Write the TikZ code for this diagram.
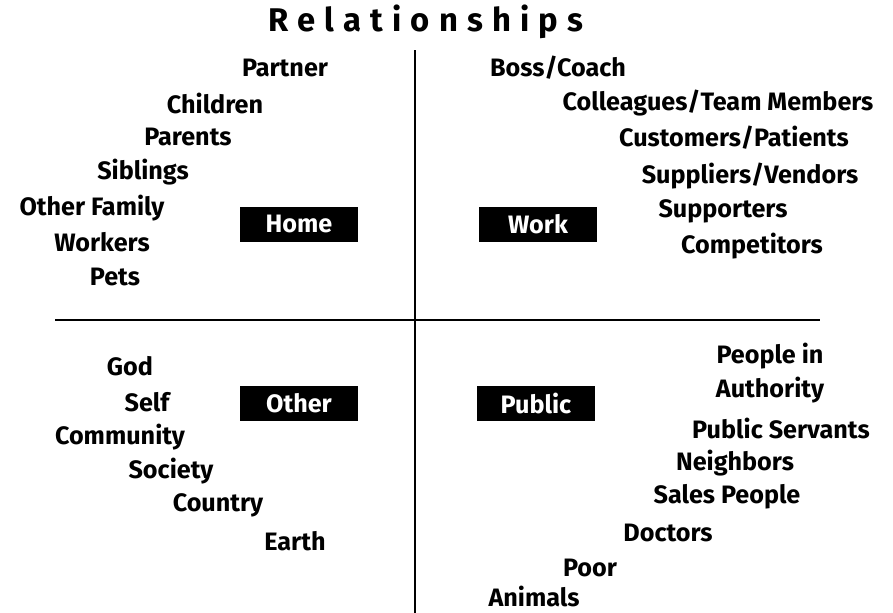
\documentclass[tikz,border=0pt]{standalone}
\usepackage{fontspec}
\setmainfont{Fira Sans}
\usetikzlibrary{positioning}

\tikzset{
  entry/.style={font=\bfseries\fontsize{21.5}{23}\selectfont, inner sep=0pt},
  tag/.style={fill=black, text=white, font=\bfseries\fontsize{21.5}{23}\selectfont,
              minimum width=35.4mm, minimum height=10.5mm, inner sep=0pt},
}

\begin{document}
\begin{tikzpicture}[x=0.3mm, y=-0.3mm]
                \useasboundingbox (0, 0) rectangle (893, 613);

                \node[font=\bfseries\fontsize{28}{30}\selectfont\addfontfeature{LetterSpace=28}] (title) at (426, 22) {Relationships};

                % quadrant lines
                \coordinate (vtop) at (415, 50);
                \coordinate (vbot) at (415, 613);
                \coordinate (hleft) at (55, 320);
                \coordinate (hright) at (820, 320);
                \draw[line width=0.6mm] (vtop) -- (vbot);
                \draw[line width=0.6mm] (hleft) -- (hright);

                \node[tag] (home) at (299, 224) {Home};
                \node[tag] (work) at (538, 224) {Work};
                \node[tag] (other) at (299, 403) {Other};
                \node[tag] (public) at (536, 403) {Public};

                % home
                \node[entry] (partner) at (285, 68) {Partner};
                \node[entry] (children) at (215, 103) {Children};
                \node[entry] (parents) at (188, 137) {Parents};
                \node[entry] (siblings) at (143, 172) {Siblings};
                \node[entry] (family) at (92, 208) {Other Family};
                \node[entry] (workers) at (102, 242) {Workers};
                \node[entry] (pets) at (115, 277) {Pets};

                % work
                \node[entry] (boss) at (558, 68) {Boss/Coach};
                \node[entry] (colleagues) at (718, 103) {Colleagues/Team Members};
                \node[entry] (customers) at (734, 138) {Customers/Patients};
                \node[entry] (suppliers) at (750, 176) {Suppliers/Vendors};
                \node[entry] (supporters) at (723, 211) {Supporters};
                \node[entry] (competitors) at (752, 246) {Competitors};

                % other
                \node[entry] (god) at (130, 366) {God};
                \node[entry] (self) at (147, 402) {Self};
                \node[entry] (community) at (120, 437) {Community};
                \node[entry] (society) at (171, 471) {Society};
                \node[entry] (country) at (218, 505) {Country};
                \node[entry] (earth) at (295, 541) {Earth};

                % public
                \node[entry, align=center] (authority) at (770, 373) {People in\\[6pt]Authority};
                \node[entry] (servants) at (781, 428) {Public Servants};
                \node[entry] (neighbors) at (735, 463) {Neighbors};
                \node[entry] (sales) at (727, 497) {Sales People};
                \node[entry] (doctors) at (668, 533) {Doctors};
                \node[entry] (poor) at (590, 568) {Poor};
                \node[entry] (animals) at (534, 596) {Animals};
            \end{tikzpicture}
\end{document}
